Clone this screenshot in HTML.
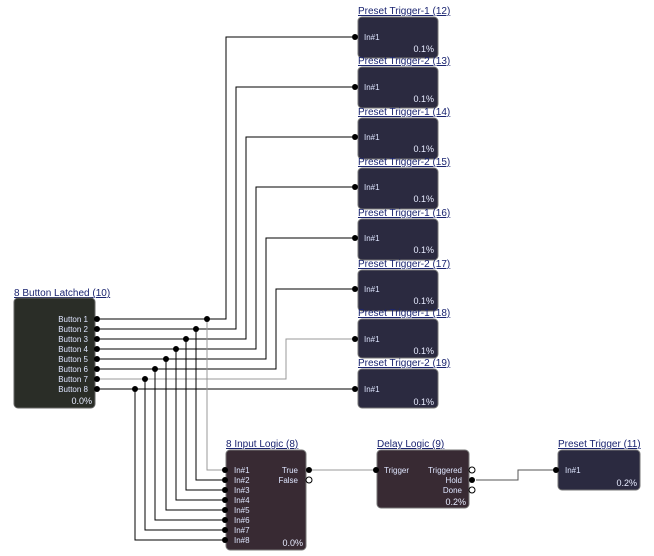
<!DOCTYPE html>
<html><head><style>
body{margin:0;background:#fff}
svg{display:block}
text{font-family:"Liberation Sans",sans-serif}
.t{font-size:10px;fill:#1a2470;text-decoration:underline}
.l{font-size:8px;fill:#dfe6ff}
.p{font-size:9px;fill:#e8ecff}
</style></head><body>
<svg width="654" height="556" viewBox="0 0 654 556" xmlns="http://www.w3.org/2000/svg">
<g fill="none" stroke-width="1">
<!-- button to presets -->
<path d="M100 319H226V37H352" stroke="#000"/>
<path d="M100 329H236V87H352" stroke="#000"/>
<path d="M100 339H246V137H352" stroke="#000"/>
<path d="M100 349H256V187H352" stroke="#000"/>
<path d="M100 359H266V238H352" stroke="#000"/>
<path d="M100 369H276V289H352" stroke="#000"/>
<path d="M100 379H286V339H352" stroke="#999"/>
<path d="M100 389H352" stroke="#000"/>
<!-- to logic -->
<path d="M207 319V470H222" stroke="#999"/>
<path d="M196 329V480H222" stroke="#000"/>
<path d="M186 339V490H222" stroke="#000"/>
<path d="M176 349V500H222" stroke="#000"/>
<path d="M166 359V510H222" stroke="#000"/>
<path d="M155 369V520H222" stroke="#000"/>
<path d="M145 379V530H222" stroke="#000"/>
<path d="M135 389V540H222" stroke="#000"/>
<path d="M312 470H373" stroke="#999"/>
<path d="M476 480H518V470H553" stroke="#555"/>
</g>
<g fill="#000">
<circle cx="207" cy="319" r="3"/><circle cx="196" cy="329" r="3"/><circle cx="186" cy="339" r="3"/><circle cx="176" cy="349" r="3"/>
<circle cx="166" cy="359" r="3"/><circle cx="155" cy="369" r="3"/><circle cx="145" cy="379" r="3"/><circle cx="135" cy="389" r="3"/>
</g>
<!-- Button latched -->
<text x="14" y="296" class="t">8 Button Latched (10)</text>
<rect x="14" y="298" width="81" height="110" rx="4" fill="#2a2d27" stroke="#666"/>
<g class="l" text-anchor="end">
<text x="88" y="322">Button 1</text><text x="88" y="332">Button 2</text><text x="88" y="342">Button 3</text><text x="88" y="352">Button 4</text>
<text x="88" y="362">Button 5</text><text x="88" y="372">Button 6</text><text x="88" y="382">Button 7</text><text x="88" y="392">Button 8</text>
<text x="92" y="404" class="p">0.0%</text>
</g>
<g fill="#000">
<circle cx="97" cy="319" r="3"/><circle cx="97" cy="329" r="3"/><circle cx="97" cy="339" r="3"/><circle cx="97" cy="349" r="3"/>
<circle cx="97" cy="359" r="3"/><circle cx="97" cy="369" r="3"/><circle cx="97" cy="379" r="3"/><circle cx="97" cy="389" r="3"/>
</g>
<!-- Presets -->
<g>
<text x="358" y="14" class="t">Preset Trigger-1 <tspan text-decoration="none">(12)</tspan></text>
<rect x="358" y="17" width="80" height="41" rx="4" fill="#2b2a40" stroke="#777"/>
<text x="364" y="40" class="l">In#1</text><text x="434" y="52" class="p" text-anchor="end">0.1%</text><circle cx="355" cy="37" r="3"/>

<text x="358" y="64" class="t">Preset Trigger-2 (13)</text>
<rect x="358" y="67" width="80" height="41" rx="4" fill="#2b2a40" stroke="#777"/>
<text x="364" y="90" class="l">In#1</text><text x="434" y="102" class="p" text-anchor="end">0.1%</text><circle cx="355" cy="87" r="3"/>

<text x="358" y="115" class="t">Preset Trigger-1 (14)</text>
<rect x="358" y="118" width="80" height="41" rx="4" fill="#2b2a40" stroke="#777"/>
<text x="364" y="140" class="l">In#1</text><text x="434" y="152" class="p" text-anchor="end">0.1%</text><circle cx="355" cy="137" r="3"/>

<text x="358" y="165" class="t">Preset Trigger-2 (15)</text>
<rect x="358" y="168" width="80" height="41" rx="4" fill="#2b2a40" stroke="#777"/>
<text x="364" y="190" class="l">In#1</text><text x="434" y="202" class="p" text-anchor="end">0.1%</text><circle cx="355" cy="187" r="3"/>

<text x="358" y="216" class="t">Preset Trigger-1 (16)</text>
<rect x="358" y="219" width="80" height="41" rx="4" fill="#2b2a40" stroke="#777"/>
<text x="364" y="241" class="l">In#1</text><text x="434" y="253" class="p" text-anchor="end">0.1%</text><circle cx="355" cy="238" r="3"/>

<text x="358" y="267" class="t">Preset Trigger-2 (17)</text>
<rect x="358" y="270" width="80" height="41" rx="4" fill="#2b2a40" stroke="#777"/>
<text x="364" y="292" class="l">In#1</text><text x="434" y="304" class="p" text-anchor="end">0.1%</text><circle cx="355" cy="289" r="3"/>

<text x="358" y="316" class="t">Preset Trigger-1 (18)</text>
<rect x="358" y="319" width="80" height="39" rx="4" fill="#2b2a40" stroke="#777"/>
<text x="364" y="342" class="l">In#1</text><text x="434" y="354" class="p" text-anchor="end">0.1%</text><circle cx="355" cy="339" r="3"/>

<text x="358" y="366" class="t">Preset Trigger-2 (19)</text>
<rect x="358" y="369" width="80" height="39" rx="4" fill="#2b2a40" stroke="#777"/>
<text x="364" y="392" class="l">In#1</text><text x="434" y="405" class="p" text-anchor="end">0.1%</text><circle cx="355" cy="389" r="3"/>
</g>
<!-- 8 input logic -->
<text x="226" y="447" class="t">8 Input Logic (8)</text>
<rect x="226" y="450" width="80" height="100" rx="4" fill="#382a33" stroke="#777"/>
<g class="l">
<text x="234" y="473">In#1</text><text x="234" y="483">In#2</text><text x="234" y="493">In#3</text><text x="234" y="503">In#4</text>
<text x="234" y="513">In#5</text><text x="234" y="523">In#6</text><text x="234" y="533">In#7</text><text x="234" y="543">In#8</text>
<text x="298" y="473" text-anchor="end">True</text><text x="298" y="483" text-anchor="end">False</text>
<text x="303" y="546" class="p" text-anchor="end">0.0%</text>
</g>
<g fill="#000">
<circle cx="225" cy="470" r="3"/><circle cx="225" cy="480" r="3"/><circle cx="225" cy="490" r="3"/><circle cx="225" cy="500" r="3"/>
<circle cx="225" cy="510" r="3"/><circle cx="225" cy="520" r="3"/><circle cx="225" cy="530" r="3"/><circle cx="225" cy="540" r="3"/>
<circle cx="309" cy="470" r="3"/>
</g>
<circle cx="309" cy="480" r="3" fill="#fff" stroke="#000"/>
<!-- Delay logic -->
<text x="377" y="447" class="t">Delay Logic (9)</text>
<rect x="377" y="450" width="92" height="58" rx="4" fill="#382a33" stroke="#777"/>
<g class="l">
<text x="384" y="473">Trigger</text>
<text x="462" y="473" text-anchor="end">Triggered</text><text x="462" y="483" text-anchor="end">Hold</text><text x="462" y="493" text-anchor="end">Done</text>
<text x="466" y="505" class="p" text-anchor="end">0.2%</text>
</g>
<circle cx="376" cy="470" r="3"/><circle cx="472" cy="480" r="3"/>
<circle cx="472" cy="470" r="3" fill="#fff" stroke="#000"/><circle cx="472" cy="490" r="3" fill="#fff" stroke="#000"/>
<!-- Preset trigger 11 -->
<text x="558" y="447" class="t">Preset Trigger (11)</text>
<rect x="558" y="450" width="82" height="40" rx="4" fill="#2b2a40" stroke="#777"/>
<text x="565" y="473" class="l">In#1</text><text x="637" y="486" class="p" text-anchor="end">0.2%</text>
<circle cx="556" cy="470" r="3"/>
</svg>
</body></html>
